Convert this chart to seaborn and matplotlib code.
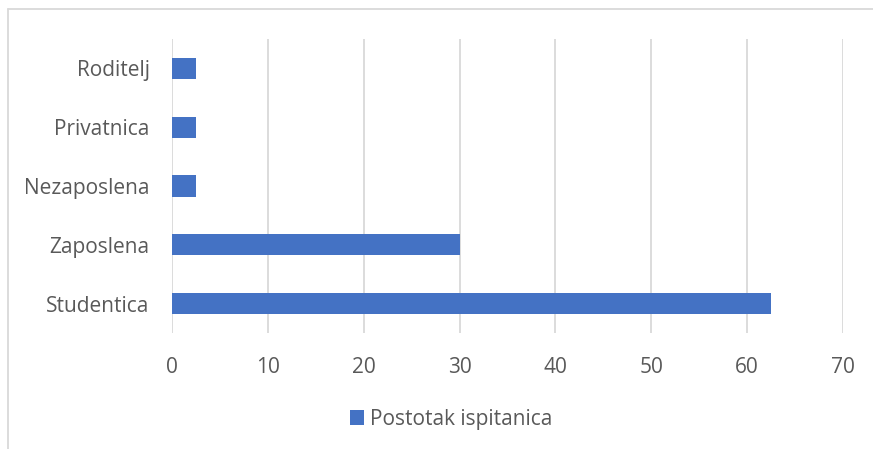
import matplotlib
matplotlib.use("Agg")
import matplotlib.pyplot as plt
from matplotlib.lines import Line2D
import seaborn as sns
import pandas as pd

categories = ["Roditelj", "Privatnica", "Nezaposlena", "Zaposlena", "Studentica"]
values = [2.5, 2.5, 2.5, 30, 62.5]
series_name = "Postotak ispitanica"
x_ticks = [0, 10, 20, 30, 40, 50, 60, 70]

df = pd.DataFrame({"Status": categories, "Postotak": values, "Serija": series_name})

sns.set_theme(style="white")
plt.rcParams['font.family'] = ['Open Sans', 'DejaVu Sans']
text_color = "#595959"
bar_color = "#4472C4"
font_size = 15

fig = plt.figure(figsize=(8.73, 4.49), dpi=100)
ax = fig.add_axes([172 / 873, 1 - 333 / 449, (843 - 172) / 873, (333 - 39) / 449])

sns.barplot(data=df, x="Postotak", y="Status", hue="Serija", palette=[bar_color],
            saturation=1, width=0.36, orient="h", ax=ax, legend=True,
            edgecolor="none", linewidth=0)

ax.set_xlim(0, 70)
ax.set_ylim(len(categories) - 0.5, -0.5)
ax.set_xticks(x_ticks)
ax.set_xticklabels([str(t) for t in x_ticks])
ax.xaxis.grid(True, color="#D9D9D9", linewidth=1.3)
ax.set_axisbelow(True)
for s in ax.spines.values():
    s.set_visible(False)
ax.tick_params(axis="both", length=0, labelsize=font_size, colors=text_color)
ax.tick_params(axis="x", pad=17.5)
ax.tick_params(axis="y", pad=16)
ax.set_xlabel("")
ax.set_ylabel("")

leg = ax.legend(loc="center", bbox_to_anchor=(0.416, -0.293),
                frameon=False, fontsize=font_size, handlelength=0.7, handleheight=0.7,
                handletextpad=0.3)
for t in leg.get_texts():
    t.set_color(text_color)

# chart area border (left and top edges visible in the crop)
fig.add_artist(Line2D([7.5 / 873, 7.5 / 873], [0, 1 - 9 / 449], transform=fig.transFigure,
                      color="#D9D9D9", linewidth=1.3))
fig.add_artist(Line2D([7.5 / 873, 1], [1 - 9 / 449, 1 - 9 / 449], transform=fig.transFigure,
                      color="#D9D9D9", linewidth=1.3))

fig.savefig("out.png", dpi=100)
